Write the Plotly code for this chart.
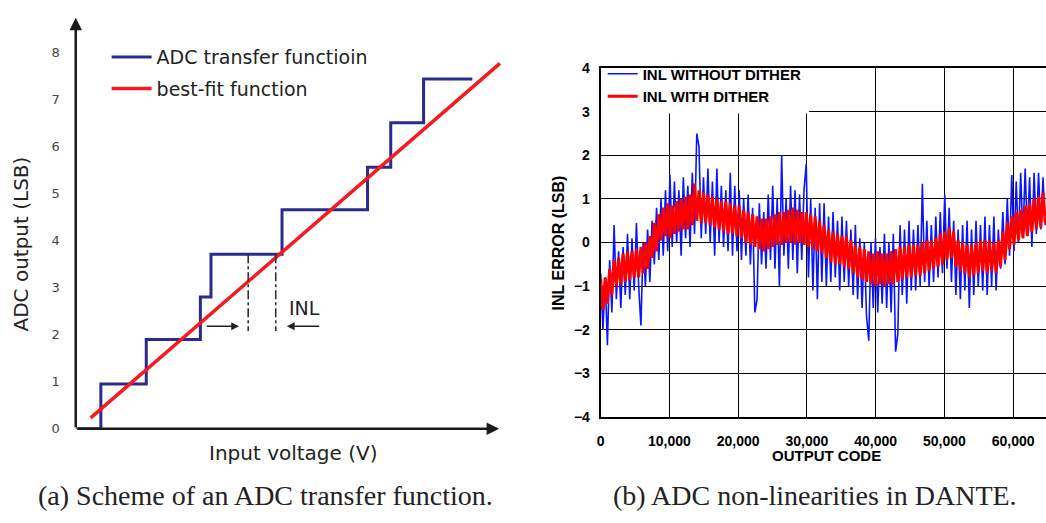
import plotly.graph_objects as go

W, H = 1046, 523

# ---------------- (a) ADC transfer function scheme ----------------
stair_x = [0, 0.52, 1.46, 2.58, 2.80, 4.27, 6.04, 6.52, 7.20, 8.21]
stair_y = [0, 0.95, 1.90, 2.80, 3.71, 4.66, 5.56, 6.51, 7.44, 7.44]
fit_x = [0.31, 8.78]
fit_y = [0.23, 7.77]
inl_x = [3.57, 4.14]          # dash-dot marker positions
inl_top = 3.71
inl_bottom = 2.08
left_ticks = [0, 1, 2, 3, 4, 5, 6, 7, 8]

# ---------------- (b) INL of DANTE ADC ----------------
code_step = 325
codes = list(range(0, 200 * code_step, code_step))

inl_with_dither = [
    -0.85, -1.55, -0.8, -1.4, -0.6, -1.2, -0.4, -1.0, -0.35, -0.95,
    -0.25, -0.9, -0.2, -0.85, -0.2, -0.8, -0.15, -0.8, -0.1, -0.7,
    0.0, -0.6, 0.15, -0.35, 0.45, -0.2, 0.65, 0.05, 0.8, 0.15,
    0.9, 0.1, 0.85, 0.2, 0.95, 0.25, 1.0, 0.3, 1.05, 0.3,
    1.1, 0.4, 1.35, 0.5, 1.2, 0.45, 1.15, 0.45, 1.1, 0.4,
    1.05, 0.35, 1.0, 0.3, 0.95, 0.25, 0.95, 0.2, 0.9, 0.2,
    0.85, 0.15, 0.85, 0.1, 0.75, 0.0, 0.7, -0.05, 0.65, -0.1,
    0.6, -0.15, 0.55, -0.2, 0.55, -0.15, 0.6, -0.1, 0.65, -0.05,
    0.7, -0.05, 0.7, 0.0, 0.75, 0.0, 0.8, -0.05, 0.75, 0.0,
    0.7, -0.05, 0.7, -0.1, 0.65, -0.15, 0.6, -0.2, 0.5, -0.25,
    0.4, -0.35, 0.3, -0.45, 0.25, -0.5, 0.2, -0.5, 0.15, -0.55,
    0.15, -0.6, 0.05, -0.7, -0.05, -0.8, -0.1, -0.85, -0.15, -0.9,
    -0.2, -0.95, -0.25, -1.0, -0.2, -0.95, -0.25, -1.0, -0.25, -0.95,
    -0.2, -0.95, -0.15, -0.9, -0.1, -0.85, -0.1, -0.8, -0.05, -0.8,
    -0.05, -0.75, -0.05, -0.75, 0.0, -0.7, 0.05, -0.65, 0.05, -0.6,
    0.1, -0.55, 0.2, -0.5, 0.25, -0.4, 0.35, -0.35, 0.25, -0.55,
    0.05, -0.65, 0.0, -0.7, -0.05, -0.8, -0.05, -0.75, 0.0, -0.7,
    0.05, -0.65, 0.05, -0.7, 0.05, -0.65, 0.0, -0.7, 0.05, -0.55,
    0.25, -0.4, 0.45, -0.15, 0.6, -0.05, 0.7, 0.05, 0.75, 0.1,
    0.85, 0.15, 0.9, 0.25, 1.0, 0.3, 1.05, 0.35, 1.15, 0.45,
]

inl_without_dither = [
    -0.7, -2.0, -0.8, -2.35, -0.4, -1.6, 0.4, -1.3, -0.2, -1.5,
    -0.1, -1.2, 0.2, -1.3, 0.1, -1.1, 0.45, -1.0, -1.9, 0.0,
    -1.0, 0.3, -0.9, 0.5, -0.5, 0.8, -0.4, 1.0, -0.3, 1.2,
    -0.2, 1.55, -0.1, 1.4, 0.0, 1.2, -0.3, 1.5, 0.1, 1.3,
    -0.1, 1.6, 0.2, 2.5, 2.2, 0.1, 1.5, 0.2, 1.7, 0.0,
    1.4, -0.3, 1.7, 0.0, 1.3, -0.1, 1.2, -0.2, 1.6, -0.3,
    1.3, -0.2, 1.2, -0.4, 1.0, -0.3, 1.1, -0.5, 0.8, -1.6,
    -1.3, 0.9, -0.5, 0.7, -0.6, 1.1, -0.4, 1.3, -0.6, 1.0,
    -1.0, 2.0, -0.3, 1.0, -0.6, 1.3, -0.4, 1.2, -0.7, 1.1,
    -0.4, 1.2, 1.8, -0.8, 1.0, -1.1, 0.8, -1.3, 0.9, -0.9,
    0.9, -1.0, 0.6, -0.9, 0.7, -0.8, 0.5, -1.1, 0.6, -0.9,
    0.5, -1.0, 0.3, -1.2, 0.4, -1.3, 0.1, -1.5, 0.0, -1.7,
    -2.25, 0.0, -1.5, 0.1, -1.6, -0.1, -1.4, 0.2, -1.5, 0.0,
    -1.6, 0.2, -2.5, -2.1, 0.4, -1.2, 0.3, -1.4, 0.5, -1.1,
    0.3, -1.1, 0.4, -1.0, 1.35, -0.9, 0.5, -1.0, 0.4, -0.9,
    0.6, -0.8, 0.7, -0.7, 1.1, -0.6, 0.8, -0.9, 0.5, -1.2,
    0.3, -1.3, 0.4, -1.1, 0.5, -1.5, 0.3, -1.2, 0.5, -1.0,
    0.4, -1.1, 0.6, -1.2, 0.4, -1.0, 0.6, -1.1, 0.3, -0.6,
    0.7, -0.5, 1.0, -0.3, 1.55, -0.2, 1.4, 0.0, 1.6, 0.1,
    1.7, 0.2, 1.5, -0.1, 1.6, 0.2, 1.6, 0.3, 1.5, 0.4,
]

right_yticks = [-4, -3, -2, -1, 0, 1, 2, 3, 4]
right_xticks = [0, 10000, 20000, 30000, 40000, 50000, 60000]


def px(x):
    return x / W


def py(y):
    return 1 - y / H


LEFT_FONT = "DejaVu Sans"
RIGHT_FONT = "Liberation Sans"
LUNIT = 48.5  # pixels per unit in panel (a)

fig = go.Figure()

# panel (a) traces
fig.add_trace(go.Scatter(
    x=stair_x, y=stair_y, mode="lines", line=dict(color="#2b2b8e", width=3, shape="hv"),
    name="ADC transfer functioin", xaxis="x", yaxis="y", legend="legend", legendgroup="a1"))
fig.add_trace(go.Scatter(
    x=fit_x, y=fit_y, mode="lines", line=dict(color="#f7191f", width=3.5),
    name="best-fit function", xaxis="x", yaxis="y", legend="legend", legendgroup="a2"))
for xv in inl_x:
    fig.add_trace(go.Scatter(
        x=[xv, xv], y=[inl_top, inl_bottom], mode="lines",
        line=dict(color="#333333", width=1.6, dash="dashdot"),
        showlegend=False, xaxis="x", yaxis="y"))

# panel (b) traces
fig.add_trace(go.Scatter(
    x=codes, y=inl_without_dither, mode="lines", line=dict(color="#0a14ff", width=1.6),
    name="INL WITHOUT DITHER", xaxis="x2", yaxis="y2", legend="legend2"))
fig.add_trace(go.Scatter(
    x=codes, y=inl_with_dither, mode="lines", line=dict(color="#ff0000", width=3),
    name="INL WITH DITHER", xaxis="x2", yaxis="y2", legend="legend2"))

# axes
xl0, xl1 = 72, 500
yl0, yl1 = 434, 8
fig.update_layout(
    width=W, height=H, margin=dict(l=0, r=0, t=0, b=0),
    paper_bgcolor="white", plot_bgcolor="white",
    xaxis=dict(domain=[px(xl0), px(xl1)], range=[0, (xl1 - xl0) / LUNIT],
               showgrid=False, zeroline=False, showline=False, showticklabels=False, ticks=""),
    yaxis=dict(domain=[py(yl0), py(yl1)], range=[0, (yl0 - yl1) / LUNIT],
               showgrid=False, zeroline=False, showline=False, ticks="",
               tickvals=left_ticks, ticklabelstandoff=15,
               tickfont=dict(family=LEFT_FONT, size=13, color="#444444")),
    xaxis2=dict(domain=[px(599), 1.0], range=[0, (1046 - 599) / 6.9 * 1000], anchor="y2",
                showgrid=True, gridcolor="black", gridwidth=1.3, zeroline=False,
                showline=True, linecolor="black", linewidth=2, mirror=True,
                tickvals=right_xticks, tickformat=",d", ticks="", ticklabelstandoff=10,
                tickfont=dict(family=RIGHT_FONT, size=14, color="black", weight="bold")),
    yaxis2=dict(domain=[py(422), py(62)], range=[-4, 4], anchor="x2",
                showgrid=True, gridcolor="black", gridwidth=1.3, zeroline=False,
                showline=True, linecolor="black", linewidth=2,
                tickvals=right_yticks, ticks="", ticklabelstandoff=6,
                tickfont=dict(family=RIGHT_FONT, size=14, color="black", weight="bold")),
    legend=dict(x=px(103), y=py(31), xanchor="left", yanchor="top", bgcolor="rgba(0,0,0,0)",
                font=dict(family=LEFT_FONT, size=19, color="#222222"), itemwidth=40,
                tracegroupgap=4),
    legend2=dict(x=px(601), y=py(51), xanchor="left", yanchor="top", bgcolor="rgba(0,0,0,0)",
                 font=dict(family=RIGHT_FONT, size=15, color="black", weight="bold"),
                 tracegroupgap=0),
    showlegend=True,
)

# white mask under the legend of panel (b), hiding grid lines there
fig.add_shape(type="rect", xref="x2", yref="y2", x0=0, x1=30300, y0=2.96, y1=4,
              fillcolor="white", line=dict(width=0), layer="between")

C = dict(xanchor="center", yanchor="middle")
ann = []
# axis arrows of panel (a)
ann.append(dict(x=0, y=(yl0 - 10) / LUNIT, ax=0, ay=0, xref="x", yref="y", axref="x", ayref="y",
                text="", showarrow=True, arrowhead=2, arrowsize=1, arrowwidth=2.5, arrowcolor="#1a1a1a"))
ann.append(dict(x=(497 - xl0) / LUNIT, y=0, ax=0, ay=0, xref="x", yref="y", axref="x", ayref="y",
                text="", showarrow=True, arrowhead=2, arrowsize=1, arrowwidth=2.5, arrowcolor="#1a1a1a"))
# INL arrows
ann.append(dict(x=3.38, y=2.18, ax=2.68, ay=2.18, xref="x", yref="y", axref="x", ayref="y",
                text="", showarrow=True, arrowhead=2, arrowsize=1.2, arrowwidth=1.3, arrowcolor="#222222"))
ann.append(dict(x=4.37, y=2.18, ax=5.07, ay=2.18, xref="x", yref="y", axref="x", ayref="y",
                text="", showarrow=True, arrowhead=2, arrowsize=1.2, arrowwidth=1.3, arrowcolor="#222222"))
ann.append(dict(x=4.74, y=2.56, xref="x", yref="y", text="INL", showarrow=False,
                font=dict(family=LEFT_FONT, size=19, color="#222222"), **C))
# titles
ann.append(dict(x=px(17), y=py(243), xref="paper", yref="paper", text="ADC output (LSB)",
                textangle=-90, showarrow=False, font=dict(family=LEFT_FONT, size=20, color="#222222"), **C))
ann.append(dict(x=px(291), y=py(459), xref="paper", yref="paper", text="Input voltage (V)",
                showarrow=False, font=dict(family=LEFT_FONT, size=20, color="#222222"), **C))
ann.append(dict(x=px(557), y=py(242), xref="paper", yref="paper", text="INL ERROR (LSB)",
                textangle=-90, showarrow=False,
                font=dict(family=RIGHT_FONT, size=16, color="black", weight="bold"), **C))
ann.append(dict(x=px(826), y=py(462), xref="paper", yref="paper", text="OUTPUT CODE",
                showarrow=False, font=dict(family=RIGHT_FONT, size=15, color="black", weight="bold"), **C))
# captions
ann.append(dict(x=px(263), y=py(503), xref="paper", yref="paper",
                text="(a) Scheme of an ADC transfer function.", showarrow=False,
                font=dict(family="Liberation Serif", size=28, color="#222222"), **C))
ann.append(dict(x=px(814), y=py(503), xref="paper", yref="paper",
                text="(b) ADC non-linearities in DANTE.", showarrow=False,
                font=dict(family="Liberation Serif", size=28, color="#222222"), **C))
fig.update_layout(annotations=ann)

fig.write_html("out.html")
